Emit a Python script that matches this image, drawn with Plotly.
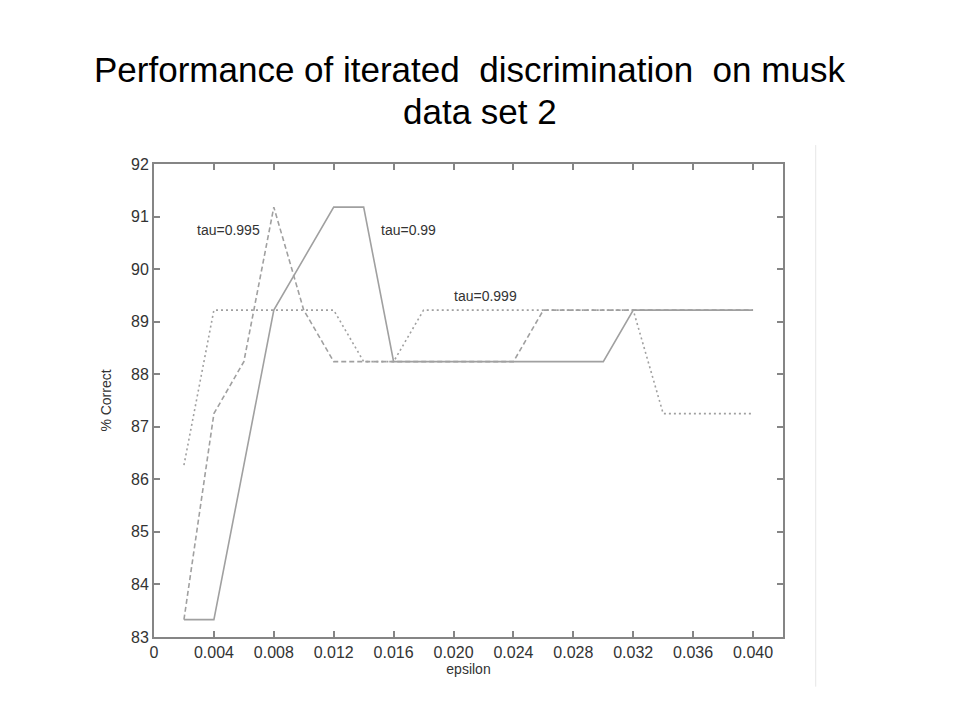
import plotly.graph_objects as go

epsilon = [0.002, 0.004, 0.006, 0.008, 0.010, 0.012, 0.014, 0.016, 0.018, 0.020,
           0.022, 0.024, 0.026, 0.028, 0.030, 0.032, 0.034, 0.036, 0.038, 0.040]

tau_099 = [83.33, 83.33, 86.27, 89.22, 90.20, 91.18, 91.18, 88.24, 88.24, 88.24,
           88.24, 88.24, 88.24, 88.24, 88.24, 89.22, 89.22, 89.22, 89.22, 89.22]
tau_0995 = [83.33, 87.25, 88.24, 91.18, 89.22, 88.24, 88.24, 88.24, 88.24, 88.24,
            88.24, 88.24, 89.22, 89.22, 89.22, 89.22, 89.22, 89.22, 89.22, 89.22]
tau_0999 = [86.27, 89.22, 89.22, 89.22, 89.22, 89.22, 88.24, 88.24, 89.22, 89.22,
            89.22, 89.22, 89.22, 89.22, 89.22, 89.22, 87.25, 87.25, 87.25, 87.25]

x_ticks = [0, 0.004, 0.008, 0.012, 0.016, 0.020, 0.024, 0.028, 0.032, 0.036, 0.040]
x_tick_labels = ["0", "0.004", "0.008", "0.012", "0.016", "0.020", "0.024",
                 "0.028", "0.032", "0.036", "0.040"]
y_ticks = [83, 84, 85, 86, 87, 88, 89, 90, 91, 92]

labels = ["tau=0.995", "tau=0.99", "tau=0.999"]
label_x = [0.00273, 0.0150, 0.01987]
label_y = [90.75, 90.75, 89.49]

title_lines = ["Performance of iterated  discrimination  on musk", "data set 2"]
title_y = [1.2004, 1.1118]
title_center_px = [469, 480]

line_color = "#a0a0a0"
font_family = "Liberation Sans, Arial, sans-serif"

fig = go.Figure()
fig.add_trace(go.Scatter(x=epsilon, y=tau_099, mode="lines", name="tau=0.99",
                         line=dict(color=line_color, width=1.6, dash="solid")))
fig.add_trace(go.Scatter(x=epsilon, y=tau_0995, mode="lines", name="tau=0.995",
                         line=dict(color=line_color, width=1.6, dash="5px,3px")))
fig.add_trace(go.Scatter(x=epsilon, y=tau_0999, mode="lines", name="tau=0.999",
                         line=dict(color=line_color, width=1.6, dash="2px,3px")))

for t, xx, yy in zip(labels, label_x, label_y):
    fig.add_annotation(x=xx, y=yy, text=t, showarrow=False, xanchor="left",
                       yanchor="middle", font=dict(size=14, color="#333333", family=font_family))

# title lines
for t, yy, cx in zip(title_lines, title_y, title_center_px):
    fig.add_annotation(xref="paper", yref="paper", x=(cx - 153) / 630, y=yy, text=t,
                       showarrow=False, xanchor="center", yanchor="middle",
                       font=dict(size=35, color="#000000", family=font_family))

fig.add_shape(type="line", xref="paper", yref="paper", x0=1.052, x1=1.052, y0=-0.105, y1=1.04,
              line=dict(color="#e6e6e6", width=1))

axis_common = dict(showgrid=False, zeroline=False, showline=True, linecolor="#858585",
                   linewidth=2, mirror="ticks", ticks="inside", ticklen=6, tickwidth=1.5,
                   tickcolor="#858585",
                   tickfont=dict(size=16, color="#333333", family=font_family))

fig.update_layout(
    width=960, height=720,
    paper_bgcolor="white", plot_bgcolor="white",
    showlegend=False,
    margin=dict(l=146, r=185, t=156, b=91),
    xaxis=dict(range=[0, 0.042], tickvals=x_ticks, ticktext=x_tick_labels,
               title=dict(text="epsilon", standoff=0,
                          font=dict(size=14, color="#333333", family=font_family)),
               **axis_common),
    yaxis=dict(range=[83, 92], tickvals=y_ticks,
               title=dict(text="% Correct", standoff=16,
                          font=dict(size=14, color="#333333", family=font_family)),
               **axis_common),
)

fig.write_html("out.html")
